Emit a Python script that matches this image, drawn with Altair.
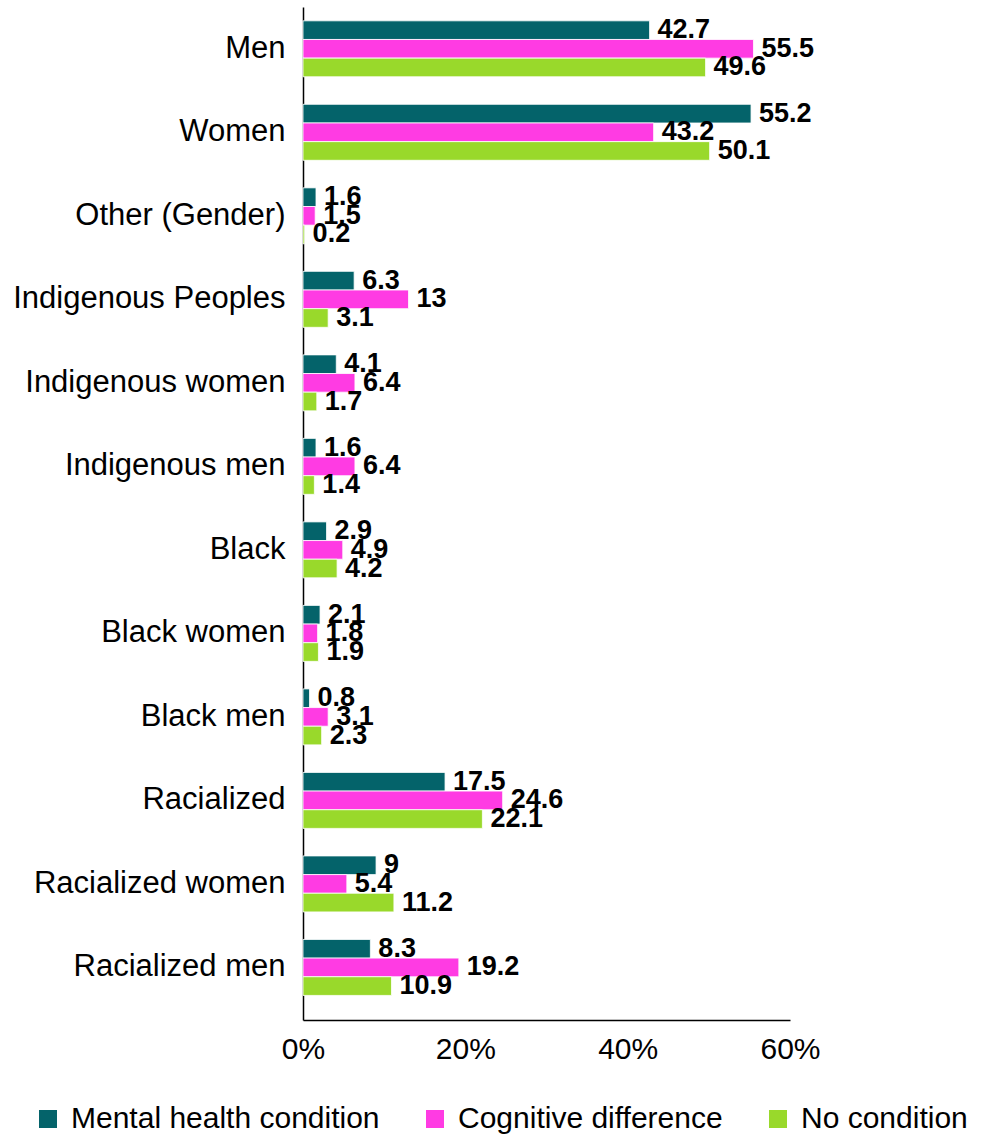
import altair as alt
import pandas as pd

categories = ["Men", "Women", "Other (Gender)", "Indigenous Peoples", "Indigenous women",
              "Indigenous men", "Black", "Black women", "Black men", "Racialized",
              "Racialized women", "Racialized men"]
series = ["Mental health condition", "Cognitive difference", "No condition"]
mental = [42.7, 55.2, 1.6, 6.3, 4.1, 1.6, 2.9, 2.1, 0.8, 17.5, 9, 8.3]
cognitive = [55.5, 43.2, 1.5, 13, 6.4, 6.4, 4.9, 1.8, 3.1, 24.6, 5.4, 19.2]
nocond = [49.6, 50.1, 0.2, 3.1, 1.7, 1.4, 4.2, 1.9, 2.3, 22.1, 11.2, 10.9]
colors = ["#04636A", "#FF3BE3", "#99D92B"]
x_ticks = [0, 20, 40, 60]

rows = []
for s, vals in zip(series, [mental, cognitive, nocond]):
    for c, v in zip(categories, vals):
        lab = str(int(v)) if float(v).is_integer() else f"{v}"
        rows.append({"category": c, "series": s, "value": v, "label": lab})
df = pd.DataFrame(rows)

FONT = "Liberation Sans"

y_enc = alt.Y("category:N", sort=categories, title=None,
              scale=alt.Scale(paddingInner=0.33, paddingOuter=0.23, align=0.36),
              axis=alt.Axis(ticks=False, domainColor="#000000", domainWidth=1.5,
                            labelFontSize=31, labelColor="#000000", labelPadding=18,
                            labelFont=FONT, labelLimit=400))
x_enc = alt.X("value:Q", title=None,
              scale=alt.Scale(domain=[0, 60], nice=False),
              axis=alt.Axis(values=x_ticks, labelExpr="datum.value + '%'", grid=False,
                            ticks=False, domainColor="#000000", domainWidth=1.5,
                            labelFontSize=30, labelColor="#000000", labelPadding=14,
                            labelFont=FONT, labelFlush=False))
yoff = alt.YOffset("series:N", sort=series)

bars = alt.Chart(df).mark_bar(stroke="white", strokeWidth=0.8).encode(
    y=y_enc, x=x_enc, yOffset=yoff,
    color=alt.Color("series:N", sort=series,
                    scale=alt.Scale(domain=series, range=colors),
                    legend=alt.Legend(title=None, orient="none", legendX=-270, legendY=1097,
                                      direction="horizontal", symbolType="square",
                                      symbolSize=324, symbolStrokeWidth=0,
                                      labelFontSize=30, labelFont=FONT, labelColor="#000000",
                                      labelLimit=500, columnPadding=40, labelOffset=8)))

labels = alt.Chart(df).mark_text(align="left", baseline="middle", dx=8, fontSize=27,
                                 fontWeight="bold", font=FONT, color="#000000").encode(
    y=alt.Y("category:N", sort=categories), x="value:Q", yOffset=yoff, text="label:N")

chart = (bars + labels).properties(
    width=487, height=1013,
    background="white",
    autosize=alt.AutoSizeParams(type="none"),
    padding={"left": 303, "top": 7, "right": 197, "bottom": 117},
).configure_view(stroke=None)

chart.save("out.html", embed_options={"renderer": "svg", "actions": False})
